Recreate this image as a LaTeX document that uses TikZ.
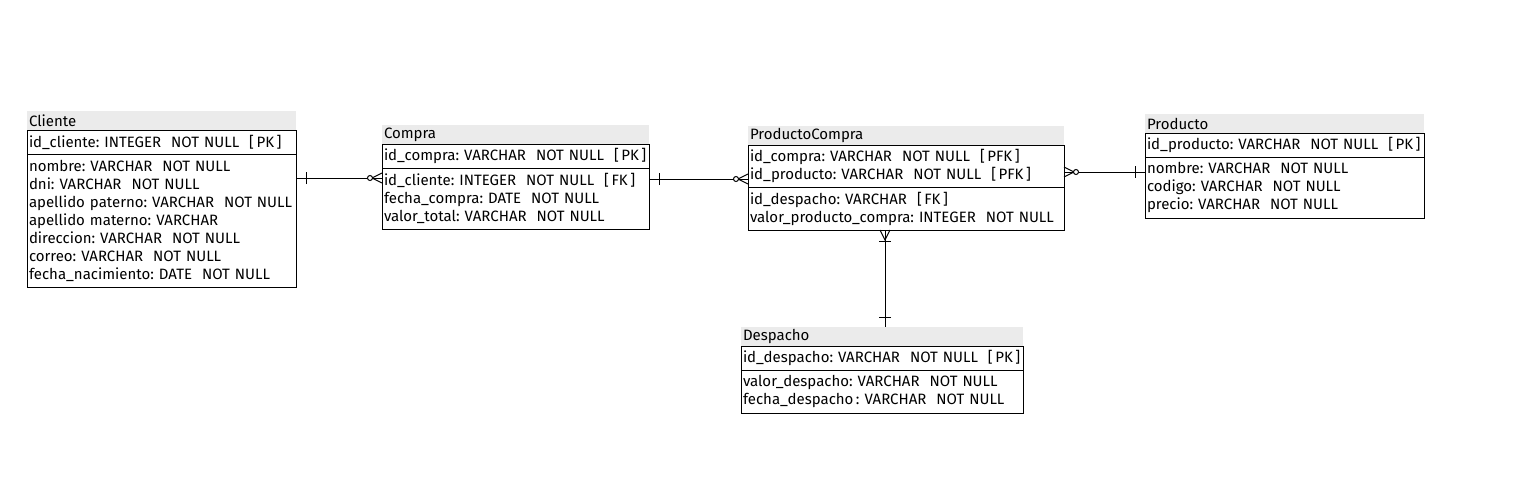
\documentclass[tikz,border=0pt]{standalone}
\usepackage{fontspec}
\setmainfont{Fira Sans}
\usetikzlibrary{positioning,calc}
\definecolor{hdrgray}{HTML}{EBEBEB}

\tikzset{
  nowrap/.style={execute at begin node={\rightskip=0pt plus 1fil minus 40pt\relax}},
  tblhead/.style={fill=hdrgray, text width=#1, align=left, inner xsep=1pt, inner ysep=0pt,
                  outer sep=0pt, minimum height=9.5pt},
  tblbox/.style={draw, line width=0.5pt, text width=#1, align=left, nowrap, inner xsep=1pt,
                 inner ysep=0pt, outer sep=0pt},
  conn/.style={line width=0.5pt},
  pics/erone/.style={code={\draw[conn] (-10,-6) -- (-10,6);}},
  pics/ercrowzero/.style={code={
      \draw[conn] (0,-5) -- (-10,0) -- (0,5);
      \draw[conn, fill=white] (-12,0) circle[radius=1.25pt];}},
  pics/ercrowone/.style={code={
      \draw[conn] (0,-5) -- (-10,0) -- (0,5);
      \draw[conn] (-11,-6) -- (-11,6);}},
}

\begin{document}
\begin{tikzpicture}[x=0.5pt, y=-0.5pt, font=\fontsize{7.5pt}{9pt}\selectfont\frenchspacing]
  \useasboundingbox (0,0) rectangle (1528,493);

  % Cliente
  \node[tblhead=132.5pt, anchor=north west] (cliente) at (27,111) {Cliente};
  \node[tblbox=132.5pt, minimum height=12pt, below=0pt of cliente] (clienteK)
       {id\_cliente: INTEGER~~NOT NULL~~[\,PK\,]};
  \node[tblbox=132.5pt, minimum height=66.5pt, below=0pt of clienteK] (clienteA)
       {nombre: VARCHAR~~NOT NULL\\ dni: VARCHAR~~NOT NULL\\ apellido paterno: VARCHAR~~NOT NULL\\
        apellido materno: VARCHAR\\ direccion: VARCHAR~~NOT NULL\\ correo: VARCHAR~~NOT NULL\\
        fecha\_nacimiento: DATE~~NOT NULL};

  % Compra
  \node[tblhead=131.5pt, anchor=north west] (compra) at (382,125) {Compra};
  \node[tblbox=131.5pt, minimum height=12pt, below=0pt of compra] (compraK)
       {id\_compra: VARCHAR~~NOT NULL~~[\,PK\,]};
  \node[tblbox=131.5pt, minimum height=30.5pt, below=0pt of compraK] (compraA)
       {id\_cliente: INTEGER~~NOT NULL~~[\,FK\,]\\ fecha\_compra: DATE~~NOT NULL\\
        valor\_total: VARCHAR~~NOT NULL};

  % ProductoCompra
  \node[tblhead=156pt, anchor=north west] (pc) at (748,126) {ProductoCompra};
  \node[tblbox=156pt, minimum height=21pt, below=0pt of pc] (pcK)
       {id\_compra: VARCHAR~~NOT NULL~~[\,PFK\,]\\ id\_producto: VARCHAR~~NOT NULL~~[\,PFK\,]};
  \node[tblbox=156pt, minimum height=21.5pt, below=0pt of pcK] (pcA)
       {id\_despacho: VARCHAR~~[\,FK\,]\\ valor\_producto\_compra: INTEGER~~NOT NULL};

  % Producto
  \node[tblhead=137.5pt, anchor=north west] (producto) at (1145,114) {Producto};
  \node[tblbox=137.5pt, minimum height=12pt, below=0pt of producto] (productoK)
       {id\_producto: VARCHAR~~NOT NULL~~[\,PK\,]};
  \node[tblbox=137.5pt, minimum height=30.5pt, below=0pt of productoK] (productoA)
       {nombre: VARCHAR~~NOT NULL\\ codigo: VARCHAR~~NOT NULL\\ precio: VARCHAR~~NOT NULL};

  % Despacho
  \node[tblhead=139pt, anchor=north west] (despacho) at (741,327) {Despacho};
  \node[tblbox=139pt, minimum height=12pt, below=0pt of despacho] (despachoK)
       {id\_despacho: VARCHAR~~NOT NULL~~[\,PK\,]};
  \node[tblbox=139pt, minimum height=21.5pt, below=0pt of despachoK] (despachoA)
       {valor\_despacho: VARCHAR~~NOT NULL\\ fecha\_despacho\,: VARCHAR~~NOT NULL};

  % relationships
  \coordinate (c1) at ($(compraA.north west)+(0,10)$);
  \draw[conn] (clienteA.east |- c1) -- (c1);
  \pic[rotate=180] at (clienteA.east |- c1) {erone};
  \pic at (c1) {ercrowzero};

  \coordinate (c2) at ($(pcK.north west)+(0,34)$);
  \draw[conn] (compraA.east |- c2) -- (c2);
  \pic[rotate=180] at (compraA.east |- c2) {erone};
  \pic at (c2) {ercrowzero};

  \coordinate (c3) at ($(productoA.north west)+(0,15)$);
  \draw[conn] (pcK.east |- c3) -- (c3);
  \pic[rotate=180] at (pcK.east |- c3) {ercrowzero};
  \pic at (c3) {erone};

  \coordinate (c4) at ($(pcA.south west)+(137,0)$);
  \draw[conn] (c4) -- (c4 |- despacho.north);
  \pic[rotate=90] at (c4) {ercrowone};
  \pic[rotate=-90] at (c4 |- despacho.north) {erone};
\end{tikzpicture}
\end{document}
